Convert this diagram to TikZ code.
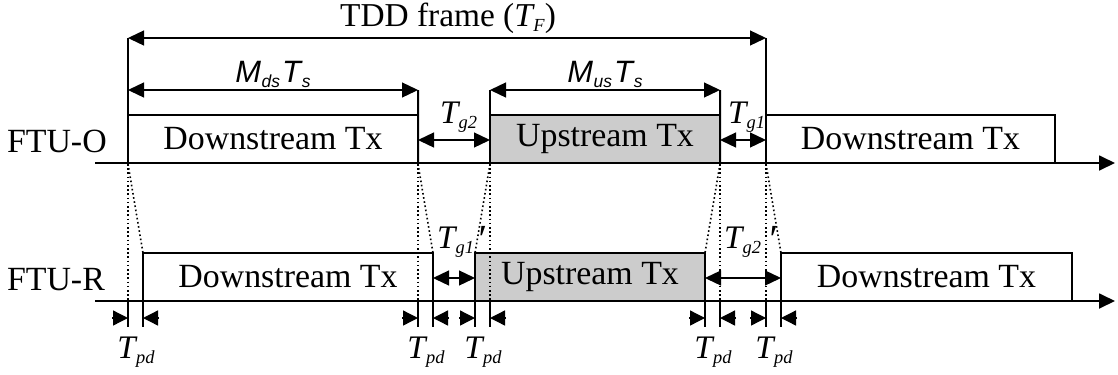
\documentclass[tikz,border=0pt]{standalone}
\usepackage{fontspec}
\setmainfont{Liberation Serif}
\newfontfamily\arialfont{Liberation Sans}
\usetikzlibrary{arrows.meta}

% italic Times-style variable with a lowered italic subscript
\newcommand\tvar[1]{\textit{T}\kern-1.5bp\raisebox{-5bp}{\fontsize{18.5}{18.5}\selectfont\textit{#1}}}
% sans-serif italic symbol count times symbol period
\newcommand\mts[1]{{\arialfont\itshape\fontsize{31}{31}\selectfont M\kern0.5bp\raisebox{-5bp}{\fontsize{17.5}{17.5}\selectfont #1}\kern2bp T\kern1bp\raisebox{-5bp}{\fontsize{17.5}{17.5}\selectfont s}}}
\newcommand\primemark{\raisebox{-4bp}{\fontsize{40}{40}\selectfont\textit{′}}}

\begin{document}
\begin{tikzpicture}[x=1bp,y=-1bp,
  txt/.style={font=\fontsize{34}{34}\selectfont, inner sep=0pt, outer sep=0pt},
  ttl/.style={font=\fontsize{33.5}{33.5}\selectfont, inner sep=0pt, outer sep=0pt},
  vtxt/.style={font=\fontsize{33}{33}\selectfont, inner sep=0pt, outer sep=0pt},
  txbox/.style={draw, line width=1.3bp, inner sep=0pt, outer sep=0pt, anchor=south west,
    minimum height=48bp, font=\fontsize{34}{34}\selectfont},
  upbox/.style={txbox, fill=black!20},
  dim/.style={line width=1.3bp, {Triangle[length=16bp,width=15bp]}-{Triangle[length=16bp,width=15bp]}},
  bound/.style={line width=2bp},
  timeaxis/.style={line width=1.8bp, -{Triangle[length=16bp,width=15bp]}},
  prop/.style={line width=1.6bp, dash pattern=on 1.6bp off 2.6bp},
  pdtip/.style={line width=1.3bp, -{Triangle[length=15bp,width=15bp]}}]

\useasboundingbox (0,0) rectangle (1118,374);

% ---------- FTU-O transmissions ----------
\node[txbox, minimum width=290bp] (od1) at (128,163) {Downstream Tx};
\node[upbox, minimum width=230bp] (ou)  at (490,163) {Upstream Tx};
\node[txbox, minimum width=289bp] (od2) at (766,163) {Downstream Tx};

% ---------- FTU-R transmissions ----------
\node[txbox, minimum width=290bp] (rd1) at (143,301) {Downstream Tx};
\node[upbox, minimum width=230bp] (ru)  at (475,301) {Upstream Tx};
\node[txbox, minimum width=291bp] (rd2) at (781,301) {Downstream Tx};

% time axes
\coordinate (oS) at (95,163);  \coordinate (oE) at (1115,163);
\coordinate (rS) at (95,301);  \coordinate (rE) at (1115,301);
\draw[timeaxis] (oS) -- (oE);
\draw[timeaxis] (rS) -- (rE);

% row labels
\node[txt, anchor=base west] (lo) at (7,152) {FTU-O};
\node[txt, anchor=base west] (lr) at (7,290) {FTU-R};

% frame and burst boundaries
\coordinate (fA) at (128,38);  \coordinate (fB) at (766,38);
\coordinate (dA) at (128,90);  \coordinate (dB) at (418,90);
\coordinate (uA) at (490,90);  \coordinate (uB) at (720,90);
\draw[bound] (od1.south west) -- (fA);
\draw[bound] (od2.south west) -- (fB);
\draw[bound] (od1.south east) -- (dB);
\draw[bound] (ou.south west) -- (uA);
\draw[bound] (ou.south east) -- (uB);

\draw[dim] (fA) -- (fB);
\draw[dim] (dA) -- (dB);
\draw[dim] (uA) -- (uB);

\node[ttl, anchor=base] (tf) at (448,26) {TDD frame (\tvar{F})};
\node[anchor=base, inner sep=0pt] (mds) at (273,82) {\mts{ds}};
\node[anchor=base, inner sep=0pt] (mus) at (605,82) {\mts{us}};

% guard intervals at the FTU-O
\coordinate (g2a) at (418,140); \coordinate (g2b) at (490,140);
\coordinate (g1a) at (720,140); \coordinate (g1b) at (766,140);
\draw[dim] (g2a) -- (g2b);
\draw[dim] (g1a) -- (g1b);
\node[vtxt, anchor=base west] (tg2) at (440,123) {\tvar{g2}};
\node[vtxt, anchor=base west] (tg1) at (728,123) {\tvar{g1}};

% guard intervals at the FTU-R
\coordinate (h1a) at (433,278); \coordinate (h1b) at (475,278);
\coordinate (h2a) at (705,278); \coordinate (h2b) at (781,278);
\draw[dim] (h1a) -- (h1b);
\draw[dim] (h2a) -- (h2b);
\node[vtxt, anchor=base west] (tg1r) at (437,248) {\tvar{g1}\hspace{2bp}\primemark};
\node[vtxt, anchor=base west] (tg2r) at (724,248) {\tvar{g2}\hspace{6bp}\primemark};

% propagation of burst edges between the two ends
\foreach \n/\xo/\xr in {a/128/143, b/418/433, c/490/475, d/720/705, e/766/781}{
  \coordinate (o\n) at (\xo,164);
  \coordinate (v\n) at (\xo,301);
  \coordinate (s\n) at (\xr,253);
  \coordinate (t\n) at (\xo,327);
  \coordinate (w\n) at (\xr,301);
  \coordinate (q\n) at (\xr,327);
  \draw[prop] (o\n) -- (v\n);
  \draw[prop] (o\n) -- (s\n);
  \draw[bound] (v\n) -- (t\n);
  \draw[bound] (w\n) -- (q\n);
}

% propagation delay markers
\foreach \l/\r/\m in {128/143/136, 418/433/426, 475/490/483, 705/720/713, 766/781/774}{
  \coordinate (pl) at (\l-16,318); \coordinate (pL) at (\l,318);
  \coordinate (pr) at (\r+16,318); \coordinate (pR) at (\r,318);
  \draw[pdtip] (pl) -- (pL);
  \draw[pdtip] (pr) -- (pR);
  \node[vtxt, anchor=base] at (\m,358) {\tvar{pd}};
}
\end{tikzpicture}
\end{document}
